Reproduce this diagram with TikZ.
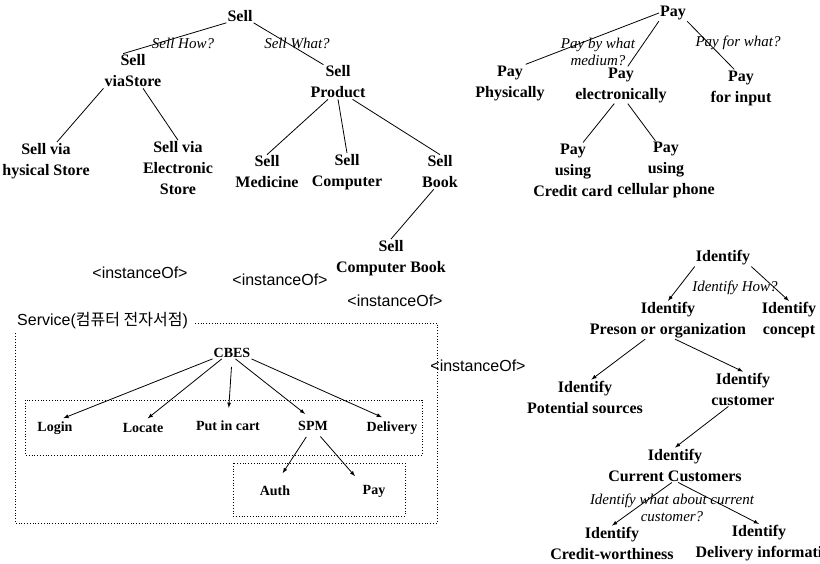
\documentclass[tikz,border=0pt]{standalone}
\usepackage{fontspec}
\setmainfont{Liberation Serif}
\setsansfont{Liberation Sans}
\newfontfamily\krfont{Noto Sans CJK KR}
\usetikzlibrary{positioning}

\begin{document}
\begin{tikzpicture}[x=1pt,y=-1pt,
  every node/.style={inner sep=1pt},
  lbl/.style={font=\fontsize{16}{21}\selectfont\bfseries, align=center},
  ask/.style={font=\fontsize{15}{17}\selectfont\itshape, align=center},
  inst/.style={font=\fontsize{16}{19}\selectfont\sffamily},
  lnk/.style={line width=0.8pt},
  arr/.style={-latex, line width=0.8pt}]
\useasboundingbox (0,0) rectangle (820,563);
% Sell tree
\node[lbl] (sell) at (240,16) {Sell};
\node[lbl] (viastore) at (133,71) {Sell\\viaStore};
\node[lbl] (product) at (338,82) {Sell\\Product};
\node[lbl] (physical) at (46,161) {Sell via\\hysical Store};
\node[lbl] (electronic) at (178,168) {Sell via\\Electronic\\Store};
\node[lbl] (medicine) at (267,172) {Sell\\Medicine};
\node[lbl] (computer) at (347,172) {Sell\\Computer};
\node[lbl] (book) at (440,172) {Sell\\Book};
\node[lbl] (compbook) at (391,258) {Sell\\Computer Book};
\node[ask] (sellhow) at (183,43) {Sell How?};
\node[ask] (sellwhat) at (297,43) {Sell What?};
\draw[lnk] (sell.south west) -- (viastore.120);
\draw[lnk] (sell.south east) -- (product.130);
\draw[lnk] (viastore.south west) -- (physical.60);
\draw[lnk] (viastore.-60) -- (electronic.north);
\draw[lnk] (product.-120) -- (medicine.north);
\draw[lnk] (product.south) -- (computer.north);
\draw[lnk] (product.-50) -- (book.north);
\draw[lnk] (book.-110) -- (compbook.north);
% Pay tree
\node[lbl] (pay) at (673,13) {Pay};
\node[lbl] (payphys) at (510,83) {Pay\\Physically};
\node[lbl] (payelec) at (621,85) {Pay\\electronically};
\node[lbl] (payinput) at (741,88) {Pay\\for input};
\node[lbl] (paycredit) at (573,170) {Pay\\using\\Credit card};
\node[lbl] (paycell) at (666,170) {Pay\\using\\cellular phone};
\node[ask] (paymedium) at (598,52) {Pay by what\\medium?};
\node[ask] (payfor) at (738,43) {Pay for what?};
\draw[lnk] (pay.west) -- (payphys.50);
\draw[lnk] (pay.south west) -- (payelec.70);
\draw[lnk] (pay.south east) -- (payinput.110);
\draw[lnk] (payelec.-110) -- (paycredit.70);
\draw[lnk] (payelec.-70) -- (paycell.110);
% Identify tree
\node[lbl] (ident) at (723,258) {Identify};
\node[lbl] (idperson) at (668,320) {Identify\\Preson or organization};
\node[lbl] (idconcept) at (789,320) {Identify\\concept};
\node[lbl] (idsources) at (585,397) {Identify\\Potential sources};
\node[lbl] (idcustomer) at (743,389) {Identify\\customer};
\node[lbl] (idcurrent) at (675,465) {Identify\\Current Customers};
\node[lbl] (idcredit) at (612,543) {Identify\\Credit-worthiness};
\node[lbl] (iddelivery) at (759,543) {Identify\\Delivery informati};
\node[ask] (idhow) at (735,288) {Identify How?};
\node[ask] (idwhat) at (672,508) {Identify what about current\\customer?};
\draw[arr] (ident.south west) -- (idperson.north);
\draw[arr] (ident.south east) -- (idconcept.north);
\draw[arr] (idperson.-140) -- (idsources.70);
\draw[arr] (idperson.-70) -- (idcustomer.north);
\draw[arr] (idcustomer.-130) -- (idcurrent.north);
\draw[arr] (idcurrent.-100) -- (idcredit.north);
\draw[arr] (idcurrent.-80) -- (iddelivery.north);
% instanceOf labels
\node[inst] (inst1) at (140,273) {<instanceOf>};
\node[inst] (inst2) at (280,280) {<instanceOf>};
\node[inst] (inst3) at (395,301) {<instanceOf>};
\node[inst] (inst4) at (478,366) {<instanceOf>};
% Service box
\node[inst, anchor=west] (service) at (16,321) {Service({\krfont 컴퓨터 전자서점})};
\draw[dotted, line width=0.8pt] (service.east) ++(6,2) -- (437,323) -- (437,523) -- (15,523) -- (15,333);
\draw[dotted, line width=0.8pt] (25,400) rectangle (422,455);
\draw[dotted, line width=0.8pt] (233,463) rectangle (405,516);
\node[lbl, font=\fontsize{14}{17}\selectfont\bfseries] (cbes) at (232,353) {CBES};
\node[lbl, font=\fontsize{14}{17}\selectfont\bfseries] (login) at (55,428) {Login};
\node[lbl, font=\fontsize{14}{17}\selectfont\bfseries] (locate) at (143,428) {Locate};
\node[lbl, font=\fontsize{14}{17}\selectfont\bfseries] (cart) at (228,426) {Put in cart};
\node[lbl, font=\fontsize{14}{17}\selectfont\bfseries] (spm) at (313,426) {SPM};
\node[lbl, font=\fontsize{14}{17}\selectfont\bfseries] (delivery) at (392,428) {Delivery};
\node[lbl, font=\fontsize{14}{17}\selectfont\bfseries] (auth) at (275,491) {Auth};
\node[lbl, font=\fontsize{14}{17}\selectfont\bfseries] (spmpay) at (374,491) {Pay};
\draw[arr, shorten >=6pt] (cbes.south west) -- (login.70);
\draw[arr, shorten >=6pt] (cbes.-150) -- (locate.north);
\draw[arr, shorten <=8pt, shorten >=12pt] (cbes.south) -- (cart.north);
\draw[arr, shorten >=10pt] (cbes.-60) -- (spm.north);
\draw[arr, shorten >=8pt] (cbes.south east) -- (delivery.110);
\draw[arr, shorten <=6pt, shorten >=14pt] (spm.-120) -- (auth.north);
\draw[arr, shorten <=6pt, shorten >=10pt] (spm.-60) -- (spmpay.north west);
\end{tikzpicture}
\end{document}
